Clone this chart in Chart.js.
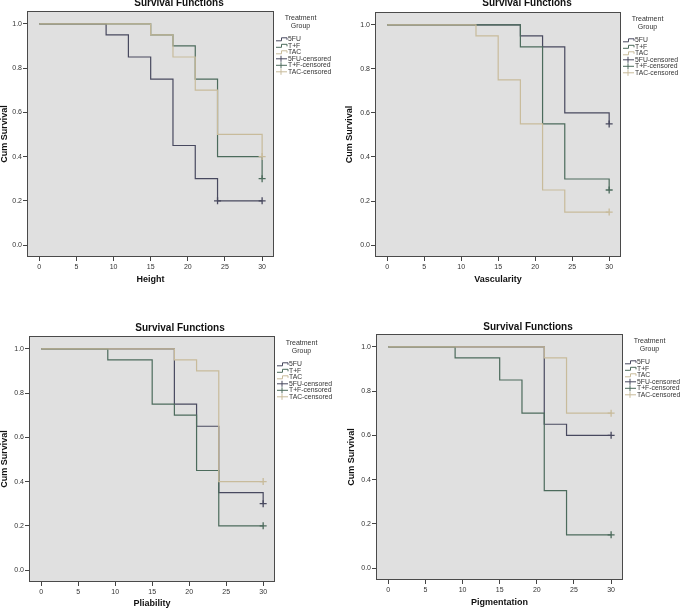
<!DOCTYPE html>
<html>
<head>
<meta charset="utf-8">
<script src="https://cdn.jsdelivr.net/npm/chart.js@4.4.0/dist/chart.umd.min.js"></script>
<style>
  body { margin: 0; background: #fff; }
  canvas { position: absolute; }
</style>
</head>
<body>
<canvas id="c1" width="342" height="300" style="left:0;top:0"></canvas>
<canvas id="c2" width="343" height="300" style="left:342px;top:0"></canvas>
<canvas id="c3" width="342" height="305" style="left:0;top:305px"></canvas>
<canvas id="c4" width="343" height="305" style="left:342px;top:305px"></canvas>
<script>
// groups, time axis and tick labels
const groups = ['5FU', 'T+F', 'TAC'];
const times = [0, 9, 12, 15, 18, 21, 24, 30];
const xTicks = [0, 5, 10, 15, 20, 25, 30];
const yTicks = [0, 0.2, 0.4, 0.6, 0.8, 1.0];

// cum survival after each time point (Height)
const height5FU = [1, 0.95, 0.85, 0.75, 0.45, 0.30, 0.20, 0.20];
const heightTF  = [1, 1, 1, 0.95, 0.90, 0.75, 0.40, 0.30];
const heightTAC = [1, 1, 1, 0.95, 0.85, 0.70, 0.50, 0.40];
const heightCensored = [[24, 30], [30], [30]];

// Vascularity
const vasc5FU = [1, 1, 1, 1, 0.95, 0.90, 0.60, 0.55];
const vascTF  = [1, 1, 1, 1, 0.90, 0.55, 0.30, 0.25];
const vascTAC = [1, 1, 0.95, 0.75, 0.55, 0.25, 0.15, 0.15];
const vascCensored = [[30], [30], [30]];

// Pliability
const pliab5FU = [1, 1, 1, 1, 0.75, 0.65, 0.35, 0.30];
const pliabTF  = [1, 0.95, 0.95, 0.75, 0.70, 0.45, 0.20, 0.20];
const pliabTAC = [1, 1, 1, 1, 0.95, 0.90, 0.40, 0.40];
const pliabCensored = [[30], [30], [30]];

// Pigmentation
const pigm5FU = [1, 1, 1, 1, 1, 0.65, 0.60, 0.60];
const pigmTF  = [1, 0.95, 0.95, 0.85, 0.70, 0.35, 0.15, 0.15];
const pigmTAC = [1, 1, 1, 1, 1, 0.95, 0.70, 0.70];
const pigmCensored = [[30], [30], [30]];

const colors = ['#48495f', '#4c6b5c', '#c8bb9b'];
const FONT = "'Liberation Sans', Arial, sans-serif";

// arka plan, cerceve, baslik ve legend
const panelPlugin = {
  id: 'panel',
  beforeDraw(chart) {
    const { ctx, chartArea: a } = chart;
    ctx.save();
    ctx.fillStyle = '#e0e0e0';
    ctx.fillRect(a.left, a.top, a.right - a.left, a.bottom - a.top);
    ctx.restore();
  },
  afterDraw(chart, args, o) {
    const { ctx, chartArea: a } = chart;
    ctx.save();
    ctx.strokeStyle = '#4a4a4a';
    ctx.lineWidth = 1;
    ctx.strokeRect(Math.round(a.left) + 0.5, Math.round(a.top) + 0.5,
      Math.round(a.right - a.left) - 1, Math.round(a.bottom - a.top) - 1);

    ctx.fillStyle = '#111';
    ctx.textAlign = 'center';
    ctx.textBaseline = 'middle';
    ctx.font = 'bold 10px ' + FONT;
    ctx.fillText('Survival Functions', o.titleX, o.titleY);

    // legend
    const lx = a.right;
    ctx.fillStyle = '#333';
    ctx.font = '7px ' + FONT;
    ctx.fillText('Treatment', lx + 26.5, a.top + 7.5);
    ctx.fillText('Group', lx + 26.5, a.top + 15);
    ctx.textAlign = 'left';
    ctx.font = '6.8px ' + FONT;
    ctx.lineWidth = 1;
    chart.data.datasets.forEach((ds, i) => {
      const y = a.top + 28.3 + i * 6.5;
      const x0 = lx + 2;
      ctx.strokeStyle = ds.borderColor;
      ctx.beginPath();
      if (i < 3) {
        ctx.moveTo(x0, y + 1.5);
        ctx.lineTo(x0 + 5.5, y + 1.5);
        ctx.lineTo(x0 + 5.5, y - 1.5);
        ctx.lineTo(x0 + 11, y - 1.5);
        ctx.lineTo(x0 + 11, y + 0.5);
      } else {
        ctx.moveTo(x0, y);
        ctx.lineTo(x0 + 11, y);
        ctx.moveTo(x0 + 5, y - 3);
        ctx.lineTo(x0 + 5, y + 3);
      }
      ctx.stroke();
      ctx.fillText(ds.label, lx + 14, y);
    });
    ctx.restore();
  }
};

function makeChart(id, xLabel, series, censored, box) {
  const datasets = [];
  series.forEach((surv, i) => {
    datasets.push({
      label: groups[i],
      data: times.map((t, k) => ({ x: t, y: surv[k] })),
      stepped: true,
      borderColor: colors[i],
      borderWidth: 1.2,
      pointRadius: 0,
      fill: false,
      order: 3 - i
    });
  });
  series.forEach((surv, i) => {
    datasets.push({
      label: groups[i] + '-censored',
      data: censored[i].map(t => ({ x: t, y: surv[times.indexOf(t)] })),
      showLine: false,
      pointStyle: 'cross',
      pointRadius: 3.5,
      borderColor: colors[i],
      borderWidth: 1.3,
      order: -1
    });
  });

  return new Chart(document.getElementById(id), {
    type: 'line',
    data: { datasets },
    options: {
      responsive: false,
      animation: false,
      devicePixelRatio: 1,
      layout: { padding: { left: 0, top: box.T, right: box.w - box.R, bottom: 0 } },
      plugins: {
        legend: { display: false },
        tooltip: { enabled: false },
        panel: { titleX: box.titleX, titleY: box.titleY }
      },
      scales: {
        x: {
          type: 'linear',
          min: -1.65,
          max: 31.6,
          afterBuildTicks: s => { s.ticks = xTicks.map(v => ({ value: v })); },
          afterFit: s => { s.height = box.h - box.B; },
          grid: { drawOnChartArea: false, drawTicks: true, tickLength: 4, color: '#444' },
          border: { display: false },
          ticks: { padding: 2, color: '#333', font: { family: FONT, size: 7 }, maxRotation: 0 },
          title: {
            display: true, text: xLabel, color: '#111',
            font: { family: FONT, size: 9, weight: 'bold' },
            padding: { top: 0, bottom: box.h - 5.4 - box.xTitleY }
          }
        },
        y: {
          min: -0.054,
          max: 1.058,
          afterBuildTicks: s => { s.ticks = yTicks.map(v => ({ value: v })); },
          afterFit: s => { s.width = box.L; },
          grid: { drawOnChartArea: false, drawTicks: true, tickLength: 4, color: '#444' },
          border: { display: false },
          ticks: { padding: 1, color: '#333', font: { family: FONT, size: 7 }, callback: v => v.toFixed(1) },
          title: {
            display: true, text: 'Cum Survival', color: '#111',
            font: { family: FONT, size: 9, weight: 'bold' },
            padding: { top: box.yTitleX - 5.4, bottom: 0 }
          }
        }
      }
    },
    plugins: [panelPlugin]
  });
}

makeChart('c1', 'Height', [height5FU, heightTF, heightTAC], heightCensored,
  { w: 342, h: 300, L: 27, T: 11, R: 274, B: 257, titleX: 179, titleY: 3, yTitleX: 4.5, xTitleY: 280 });
makeChart('c2', 'Vascularity', [vasc5FU, vascTF, vascTAC], vascCensored,
  { w: 343, h: 300, L: 33, T: 12, R: 279, B: 257, titleX: 185, titleY: 3, yTitleX: 8, xTitleY: 280 });
makeChart('c3', 'Pliability', [pliab5FU, pliabTF, pliabTAC], pliabCensored,
  { w: 342, h: 305, L: 29, T: 31, R: 275, B: 277, titleX: 180, titleY: 23, yTitleX: 5, xTitleY: 299 });
makeChart('c4', 'Pigmentation', [pigm5FU, pigmTF, pigmTAC], pigmCensored,
  { w: 343, h: 305, L: 34, T: 29, R: 281, B: 275, titleX: 186, titleY: 22, yTitleX: 10, xTitleY: 298 });
</script>
</body>
</html>
